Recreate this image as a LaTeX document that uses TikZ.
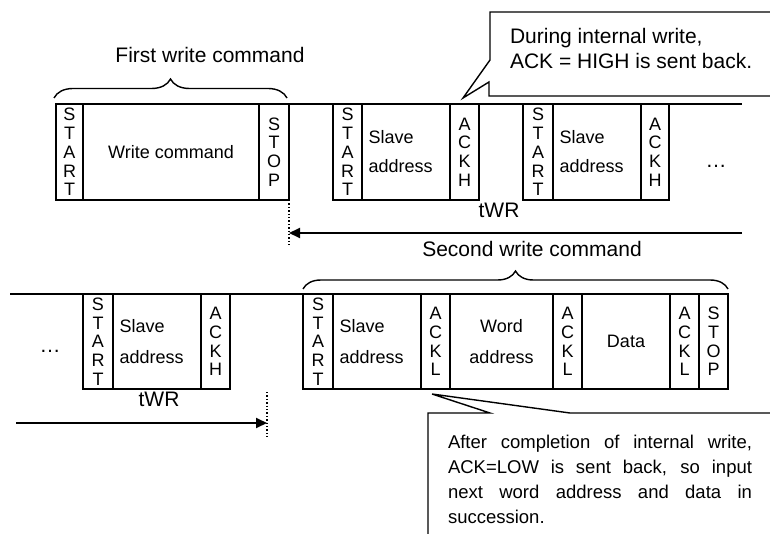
\documentclass[tikz,border=0pt]{standalone}
\usepackage{fontspec}
\setmainfont{Liberation Sans}
\usetikzlibrary{arrows.meta,decorations.pathreplacing}
\newcommand{\bxfont}{\fontsize{18}{18.75}\selectfont}
\newcommand{\twofont}{\fontsize{18}{31}\selectfont}
\newcommand{\twofonttop}{\fontsize{18}{29}\selectfont}
\newcommand{\hdfont}{\fontsize{21}{25}\selectfont}
\newcommand{\cofont}{\fontsize{18.5}{25}\selectfont}
\begin{document}
\begin{tikzpicture}[x=1pt,y=-1pt,
  every node/.style={inner sep=0pt, outer sep=0pt},
  lw/.style={line width=1.4pt},
  cell/.style={draw, line width=1.4pt, anchor=north west, inner sep=0pt,
    minimum height=96pt, minimum width=#1, align=center, font=\bxfont},
  lcell/.style={cell=88pt, align=left, font=\twofont, text width=75pt, inner xsep=6.5pt},
  ccell/.style={cell=#1, font=\twofont},
  arr/.style={line width=2pt, -{Triangle[length=11pt,width=10pt]}},
  lbl/.style={font=\hdfont}
]
\useasboundingbox (0,0) rectangle (770,534);
% top row
\node[cell=27pt] (st1) at (56,104) {S\\T\\A\\R\\T};
\node[cell=176pt] (wc1) at (83,104) {Write command};
\node[cell=30pt] (sp1) at (259,104) {S\\T\\O\\P};
\node[cell=29pt] (st2) at (333,104) {S\\T\\A\\R\\T};
\node[lcell, font=\twofonttop] (sa2) at (362,104) {Slave\\address};
\node[cell=29pt] (ah2) at (450,104) {A\\C\\K\\H};
\node[cell=30pt] (st3) at (523,104) {S\\T\\A\\R\\T};
\node[lcell, font=\twofonttop] (sa3) at (553,104) {Slave\\address};
\node[cell=28pt] (ah3) at (641,104) {A\\C\\K\\H};
\coordinate (tl) at (742,104);
\draw[lw] (sp1.north east) -- (st2.north west);
\draw[lw] (ah2.north east) -- (st3.north west);
\draw[lw] (ah3.north east) -- (tl);
\node[lbl, anchor=base] (e1) at (716,168) {…};
% bottom row
\node[cell=30pt, minimum height=95pt] (st4) at (83,294) {S\\T\\A\\R\\T};
\node[lcell, minimum height=95pt] (sa4) at (113,294) {Slave\\address};
\node[cell=29pt, minimum height=95pt] (ah4) at (201,294) {A\\C\\K\\H};
\node[cell=30pt, minimum height=95pt] (st5) at (303,294) {S\\T\\A\\R\\T};
\node[lcell, minimum height=95pt] (sa5) at (333,294) {Slave\\address};
\node[cell=29pt, minimum height=95pt] (al5) at (421,294) {A\\C\\K\\L};
\node[ccell=103pt, minimum height=95pt] (wa5) at (450,294) {Word\\address};
\node[cell=29pt, minimum height=95pt] (al6) at (553,294) {A\\C\\K\\L};
\node[cell=88pt, minimum height=95pt] (da5) at (582,294) {Data};
\node[cell=29pt, minimum height=95pt] (al7) at (670,294) {A\\C\\K\\L};
\node[cell=29pt, minimum height=95pt] (sp5) at (699,294) {S\\T\\O\\P};
\coordinate (bl) at (10,294);
\draw[lw] (bl) -- (st4.north west);
\draw[lw] (ah4.north east) -- (st5.north west);
\node[lbl, anchor=base] (e2) at (50,352) {…};
% braces and headings
\coordinate (b1a) at (54,98);
\coordinate (b1b) at (287,98);
\draw[lw, decorate, decoration={brace, amplitude=19pt}] (b1a) -- (b1b);
\node[lbl] (h1) at (210,55) {First write command};
\coordinate (b2a) at (303,289);
\coordinate (b2b) at (728,289);
\draw[lw, decorate, decoration={brace, amplitude=18pt}] (b2a) -- (b2b);
\node[lbl] (h2) at (532,248.5) {Second write command};
% tWR timing
\coordinate (d1) at (289,245);
\draw[lw, dotted] (sp1.south east) -- (d1);
\coordinate (a1s) at (742,233);
\coordinate (a1e) at (289,233);
\draw[arr] (a1s) -- (a1e);
\node[lbl] (t1) at (499,210) {tWR};
\coordinate (d2a) at (267,392);
\coordinate (d2b) at (267,437);
\draw[lw, dotted] (d2a) -- (d2b);
\coordinate (a2s) at (16,423);
\coordinate (a2e) at (267,423);
\draw[arr] (a2s) -- (a2e);
\node[lbl] (t2) at (159,399.5) {tWR};
% callouts
\draw[lw] (772,12) -- (490,12) -- (490,60) -- (463,98) -- (489,82) -- (489,96) -- (772,96);
\node[lbl, anchor=north west, align=left] (c1) at (510,28.5) {During internal write,\\ACK = HIGH is sent back.};
\draw[lw] (772,413) -- (570,413) -- (432,394) -- (490,413) -- (428,413) -- (428,536);
\node[font=\cofont, anchor=north west, align=left] (c2) at (448,435)
  {\makebox[304pt][s]{After completion of internal write,}\\
   \makebox[304pt][s]{ACK=LOW is sent back, so input}\\
   \makebox[304pt][s]{next word address and data in}\\
   succession.};
\end{tikzpicture}
\end{document}
